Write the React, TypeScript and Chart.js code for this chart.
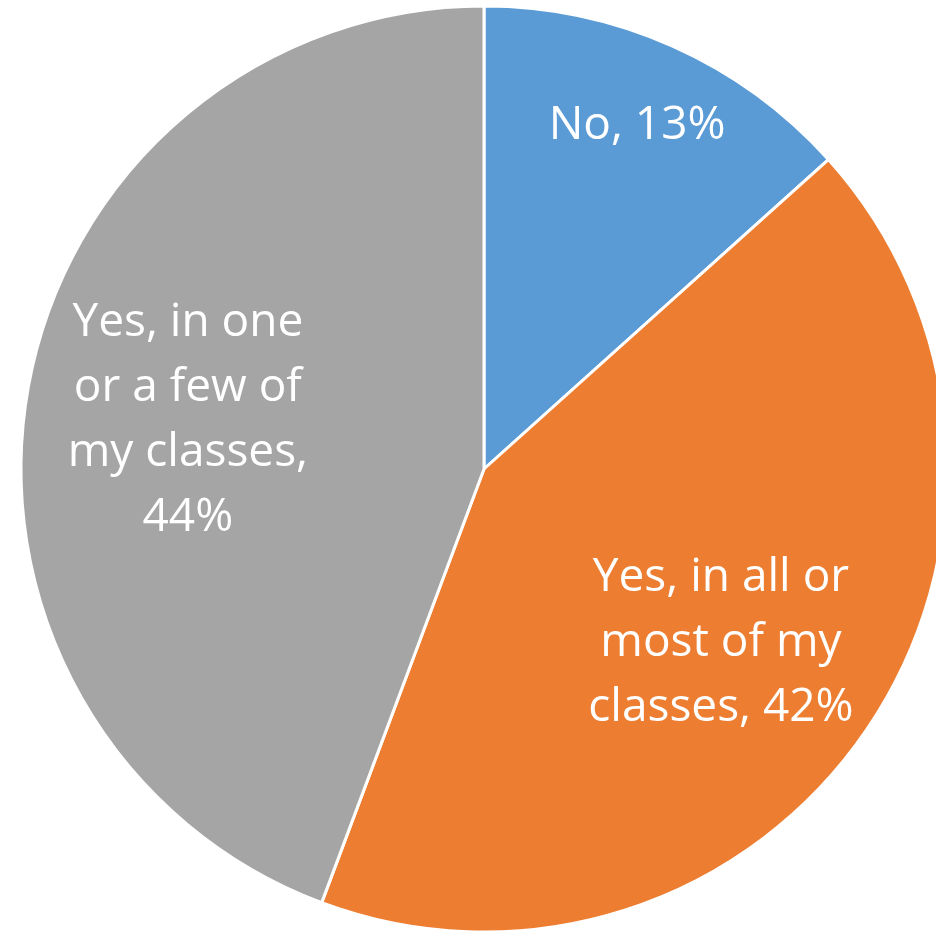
import React, { useEffect, useRef } from "react";
import { Chart, registerables } from "chart.js";

Chart.register(...registerables);

const categories = ["No", "Yes, in all or most of my classes", "Yes, in one or a few of my classes"];
const values = [13.35, 42.35, 44.3];
const labelLines = [
  ["No, 13%"],
  ["Yes, in all or", "most of my", "classes, 42%"],
  ["Yes, in one", "or a few of", "my classes,", "44%"],
];
const colors = ["#5B9BD5", "#ED7D31", "#A5A5A5"];
const labelRadius = [0.812, 0.635, 0.648];
const labelAngleShift = [0, 0.035, -0.018];

const labelPlugin = {
  id: "sliceLabels",
  afterDatasetsDraw(chart: any) {
    const ctx = chart.ctx;
    const meta = chart.getDatasetMeta(0);
    ctx.save();
    ctx.fillStyle = "#ffffff";
    ctx.font = "46px 'Open Sans', Lato, sans-serif";
    ctx.textAlign = "center";
    ctx.textBaseline = "middle";
    const lh = 65;
    meta.data.forEach((arc: any, i: number) => {
      const p = arc.getProps(["x", "y", "startAngle", "endAngle", "outerRadius"], true);
      const mid = (p.startAngle + p.endAngle) / 2 + labelAngleShift[i];
      const r = p.outerRadius * labelRadius[i];
      const cx = p.x + Math.cos(mid) * r;
      const cy = p.y + Math.sin(mid) * r;
      const lines = labelLines[i];
      const y0 = cy - ((lines.length - 1) * lh) / 2;
      lines.forEach((t, j) => ctx.fillText(t, cx, y0 + j * lh));
    });
    ctx.restore();
  },
};

export default function App() {
  const ref = useRef<HTMLCanvasElement>(null);
  useEffect(() => {
    document.body.style.overflow = "hidden";
    const chart = new Chart(ref.current!, {
      type: "pie",
      data: {
        labels: categories,
        datasets: [
          {
            data: values,
            backgroundColor: colors,
            borderColor: "#ffffff",
            borderWidth: 3,
          },
        ],
      },
      options: {
        animation: false,
        responsive: false,
        radius: 463,
        layout: { padding: 0 },
        plugins: { legend: { display: false }, tooltip: { enabled: false } },
      } as any,
      plugins: [labelPlugin],
    });
    return () => chart.destroy();
  }, []);
  return (
    <div style={{ position: "fixed", left: 0, top: 0, width: 936, height: 934, overflow: "hidden", background: "#fff" }}>
      <canvas ref={ref} width={968} height={938} style={{ display: "block", width: 968, height: 938 }} />
    </div>
  );
}
